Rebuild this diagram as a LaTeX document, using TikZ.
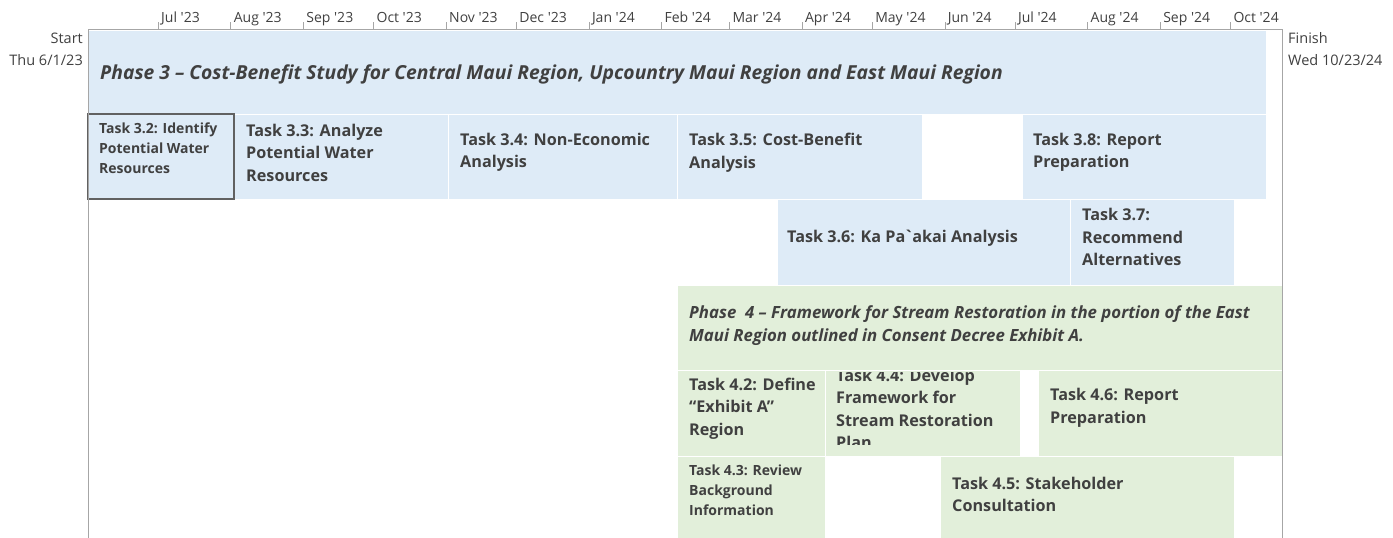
\documentclass[tikz,border=0pt]{standalone}
\usepackage{fontspec}
\setmainfont{Open Sans}[Ligatures=TeXOff]
\usepackage{tikz}
\usetikzlibrary{positioning}
\definecolor{phasethree}{HTML}{DEEBF7}
\definecolor{phasefour}{HTML}{E2EFDA}
\definecolor{inkgray}{HTML}{404040}
\definecolor{framegray}{HTML}{A6A6A6}
\tikzstyle{month} = [anchor=base west, inner sep=0pt, text=inkgray, font=\fontsize{14}{16}\selectfont]
\tikzstyle{tick} = [framegray, line width=0.8pt]
\tikzstyle{sidetext} = [inner sep=0pt, text=inkgray, font=\fontsize{14.5}{17}\selectfont]
\tikzstyle{bar} = [rectangle, anchor=north west, inner sep=0pt, outer sep=0pt, draw=white, line width=1pt]
\tikzstyle{pthree} = [bar, fill=phasethree]
\tikzstyle{pfour} = [bar, fill=phasefour]
\tikzstyle{phasetext} = [anchor=west, inner sep=0pt, align=left, text=inkgray, font=\bfseries\itshape\fontsize{16.8}{23}\selectfont]
\tikzstyle{tasktext} = [anchor=west, inner sep=0pt, align=left, text=inkgray, font=\bfseries\fontsize{16.2}{22.5}\selectfont]
\tikzstyle{smalltext} = [anchor=west, inner sep=0pt, align=left, text=inkgray, font=\bfseries\fontsize{14}{20}\selectfont]

\begin{document}
\begin{tikzpicture}[x=1pt, y=-1pt]

    \useasboundingbox (0,0) rectangle (1393,538);

    % Timescale
    \draw [tick] (158.2,22) -- (158.2,29.5);
    \draw [tick] (230.8,22) -- (230.8,29.5);
    \draw [tick] (303.4,22) -- (303.4,29.5);
    \draw [tick] (373.6,22) -- (373.6,29.5);
    \draw [tick] (446.2,22) -- (446.2,29.5);
    \draw [tick] (516.4,22) -- (516.4,29.5);
    \draw [tick] (589.0,22) -- (589.0,29.5);
    \draw [tick] (661.6,22) -- (661.6,29.5);
    \draw [tick] (729.5,22) -- (729.5,29.5);
    \draw [tick] (802.1,22) -- (802.1,29.5);
    \draw [tick] (872.3,22) -- (872.3,29.5);
    \draw [tick] (944.9,22) -- (944.9,29.5);
    \draw [tick] (1015.1,22) -- (1015.1,29.5);
    \draw [tick] (1087.7,22) -- (1087.7,29.5);
    \draw [tick] (1160.3,22) -- (1160.3,29.5);
    \draw [tick] (1230.5,22) -- (1230.5,29.5);

    \node (jul23) [month] at (161,22) {Jul '23};
    \node (aug23) [month] at (233.6,22) {Aug '23};
    \node (sep23) [month] at (306.2,22) {Sep '23};
    \node (oct23) [month] at (376.4,22) {Oct '23};
    \node (nov23) [month] at (449,22) {Nov '23};
    \node (dec23) [month] at (519.2,22) {Dec '23};
    \node (jan24) [month] at (591.8,22) {Jan '24};
    \node (feb24) [month] at (664.4,22) {Feb '24};
    \node (mar24) [month] at (732.3,22) {Mar '24};
    \node (apr24) [month] at (804.9,22) {Apr '24};
    \node (may24) [month] at (875.1,22) {May '24};
    \node (jun24) [month] at (947.7,22) {Jun '24};
    \node (jul24) [month] at (1017.9,22) {Jul '24};
    \node (aug24) [month] at (1090.5,22) {Aug '24};
    \node (sep24) [month] at (1163.1,22) {Sep '24};
    \node (oct24) [month] at (1233.3,22) {Oct '24};

    \node (start) [sidetext, anchor=base east] at (83,43) {Start};
    \node (startdate) [sidetext, anchor=base east] at (83,65) {Thu 6/1/23};
    \node (finish) [sidetext, anchor=base west] at (1288,43) {Finish};
    \node (finishdate) [sidetext, anchor=base west] at (1288,65) {Wed 10/23/24};

    % Phase 3 bars
    \node (phase3) [pthree, minimum width=1178pt, minimum height=84pt] at (88,30) {};
    \node (t32) [pthree, minimum width=146pt, minimum height=85pt] at (88,114) {};
    \node (t33) [pthree, minimum width=214pt, minimum height=85pt] at (234,114) {};
    \node (t34) [pthree, minimum width=229pt, minimum height=85pt] at (448,114) {};
    \node (t35) [pthree, minimum width=245pt, minimum height=85pt] at (677,114) {};
    \node (t38) [pthree, minimum width=244pt, minimum height=85pt] at (1022,114) {};
    \node (t36) [pthree, minimum width=293pt, minimum height=86pt] at (777,199) {};
    \node (t37) [pthree, minimum width=164pt, minimum height=86pt] at (1070,199) {};
    \draw [draw=black!62, line width=1.5pt] (t32.north west) rectangle (t32.south east);

    % Phase 4 bars
    \node (phase4) [pfour, minimum width=605pt, minimum height=85pt] at (677,285) {};
    \node (t42) [pfour, minimum width=148pt, minimum height=86pt] at (677,370) {};
    \node (t44) [pfour, minimum width=195pt, minimum height=86pt] at (825,370) {};
    \node (t46) [pfour, minimum width=244pt, minimum height=86pt] at (1038,370) {};
    \node (t43) [pfour, minimum width=148pt, minimum height=84pt] at (677,456) {};
    \node (t45) [pfour, minimum width=294pt, minimum height=84pt] at (940,456) {};

    % Labels
    \node (phase3text) [phasetext, right=12pt of phase3.west, yshift=-2pt, font=\bfseries\itshape\fontsize{19.3}{23}\selectfont] {Phase 3 – Cost-Benefit Study for Central Maui Region, Upcountry Maui Region and East Maui Region};
    \node (t32text) [smalltext, right=11pt of t32.west, yshift=8pt] {Task 3.2: Identify\\Potential Water\\Resources};
    \node (t33text) [tasktext, right=12pt of t33.west, yshift=4pt] {Task 3.3: Analyze\\Potential Water\\Resources};
    \node (t34text) [tasktext, right=12pt of t34.west, yshift=4pt] {Task 3.4: Non-Economic\\Analysis};
    \node (t35text) [tasktext, right=12pt of t35.west, yshift=4pt] {Task 3.5: Cost-Benefit\\Analysis};
    \node (t38text) [tasktext, right=11pt of t38.west, yshift=4pt] {Task 3.8: Report\\Preparation};
    \node (t36text) [tasktext, right=10pt of t36.west, yshift=4pt] {Task 3.6: Ka Pa\kern-1.5pt`\kern-1.5pt akai Analysis};
    \node (t37text) [tasktext, right=12pt of t37.west, yshift=5pt] {Task 3.7:\\Recommend\\Alternatives};

    \node (phase4text) [phasetext, right=12pt of phase4.west, yshift=2pt] {Phase~~4 – Framework for Stream Restoration in the portion of the East\\Maui Region outlined in Consent Decree Exhibit A.};
    \node (t42text) [tasktext, right=12pt of t42.west, yshift=4.5pt] {Task 4.2: Define\\“Exhibit A”\\Region};
    \begin{scope}
        % text runs past the bar, so cut it off
        \clip ([yshift=-2pt]t44.north west) rectangle ([yshift=12pt]t44.south east);
        \node (t44text) [tasktext, right=11pt of t44.west, yshift=4pt] {Task 4.4: Develop\\Framework for\\Stream Restoration\\Plan};
    \end{scope}
    \node (t46text) [tasktext, right=12pt of t46.west, yshift=5pt] {Task 4.6: Report\\Preparation};
    \node (t43text) [smalltext, right=12pt of t43.west, yshift=8pt] {Task 4.3: Review\\Background\\Information};
    \node (t45text) [tasktext, right=12pt of t45.west, yshift=3.5pt] {Task 4.5: Stakeholder\\Consultation};

    % Frame
    \draw [framegray, line width=1pt] (88,538) -- (88,29.5) -- (1282,29.5) -- (1282,538);

\end{tikzpicture}
\end{document}
